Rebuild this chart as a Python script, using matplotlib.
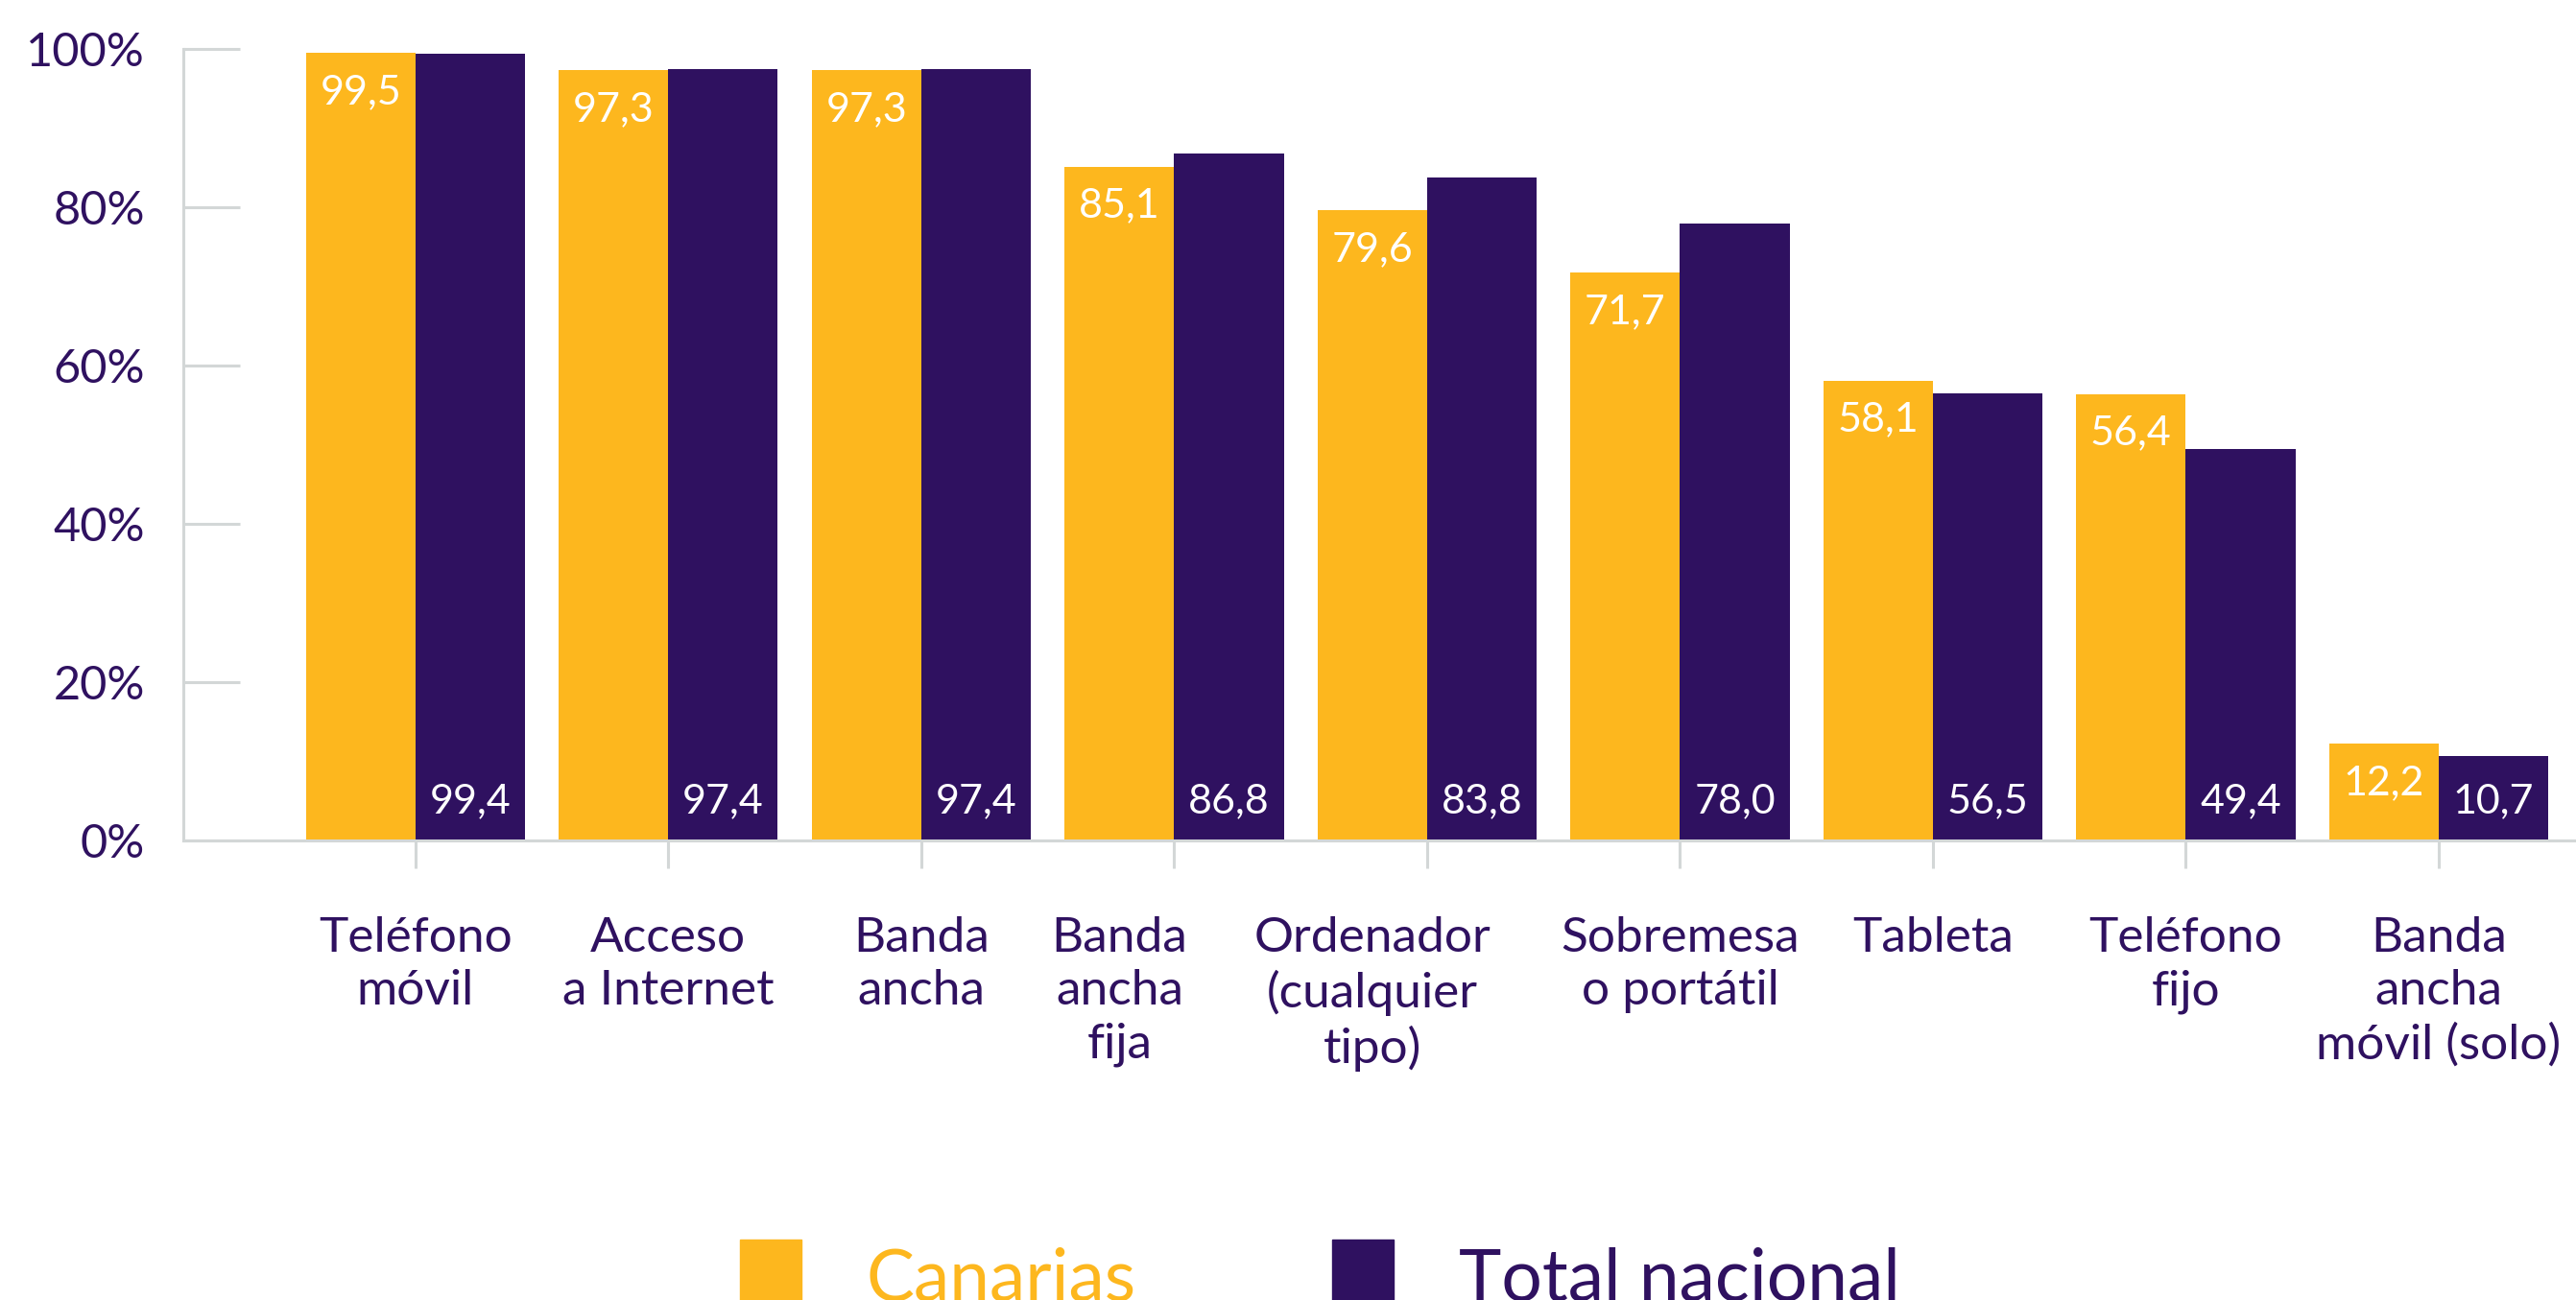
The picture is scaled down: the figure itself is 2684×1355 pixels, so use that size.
import matplotlib.pyplot as plt
from matplotlib.patches import Rectangle
from matplotlib.transforms import ScaledTranslation

plt.rcParams['font.family'] = ['Lato', 'DejaVu Sans']

categories = ['Teléfono\nmóvil', 'Acceso\na Internet', 'Banda\nancha', 'Banda\nancha\nfija',
              'Ordenador\n(cualquier\ntipo)', 'Sobremesa\no portátil', 'Tableta',
              'Teléfono\nfijo', 'Banda\nancha\nmóvil (solo)']
canarias = [99.5, 97.3, 97.3, 85.1, 79.6, 71.7, 58.1, 56.4, 12.2]
total_nacional = [99.4, 97.4, 97.4, 86.8, 83.8, 78.0, 56.5, 49.4, 10.7]
series_names = ['Canarias', 'Total nacional']
yticks = [0, 20, 40, 60, 80, 100]

yellow = '#FDB71E'
purple = '#2F1160'
gray = '#D3D7D7'

fig = plt.figure(figsize=(26.84, 13.55), dpi=100)
ax = fig.add_axes([191/2684, 1-876/1355, 1-191/2684, (876-51)/1355])

x = list(range(len(categories)))
w = 0.433
b1 = ax.bar([i - w/2 for i in x], canarias, w, color=yellow)
b2 = ax.bar([i + w/2 for i in x], total_nacional, w, color=purple)

for rect, v in zip(b1, canarias):
    ax.annotate(f"{v:.1f}".replace('.', ','), (rect.get_x() + rect.get_width()/2, v),
                xytext=(0, -38), textcoords='offset points', ha='center', va='baseline',
                color='white', fontsize=31)
for rect, v in zip(b2, total_nacional):
    ax.annotate(f"{v:.1f}".replace('.', ','), (rect.get_x() + rect.get_width()/2, 0),
                xytext=(0, 21), textcoords='offset points', ha='center', va='baseline',
                color='white', fontsize=31)

ax.set_xlim(-0.918, 8.543)
ax.set_ylim(0, 100)
ax.set_yticks(yticks)
ax.set_yticklabels([f"{t}%" for t in yticks])
ax.set_xticks(x)

for s in ['top', 'right']:
    ax.spines[s].set_visible(False)
for s in ['left', 'bottom']:
    ax.spines[s].set_color(gray)
    ax.spines[s].set_linewidth(2.2)

ax.tick_params(axis='y', direction='in', length=42.5, width=2.2, color=gray,
               labelcolor=purple, labelsize=35, pad=29)
ax.tick_params(axis='x', direction='out', length=21, width=2.2, color=gray,
               labelcolor=purple, labelsize=37, pad=36)
ax.set_xticklabels(categories, linespacing=1.25)

# two labels sit a bit to the left so they don't touch their neighbours
for i in [3, 4]:
    lab = ax.get_xticklabels()[i]
    lab.set_transform(lab.get_transform() + ScaledTranslation(-0.57, 0, fig.dpi_scale_trans))

# legend along the bottom edge
leg_x = [771, 1388]
for name, col, lx in zip(series_names, [yellow, purple], leg_x):
    fig.patches.append(Rectangle((lx/2684, 1-1356/1355), 64/2684, 64/1355,
                                 transform=fig.transFigure, color=col))
    fig.text((lx + 132)/2684, 1-1355/1355, name, color=col, fontsize=54,
             ha='left', va='baseline')

plt.savefig('out.png')
